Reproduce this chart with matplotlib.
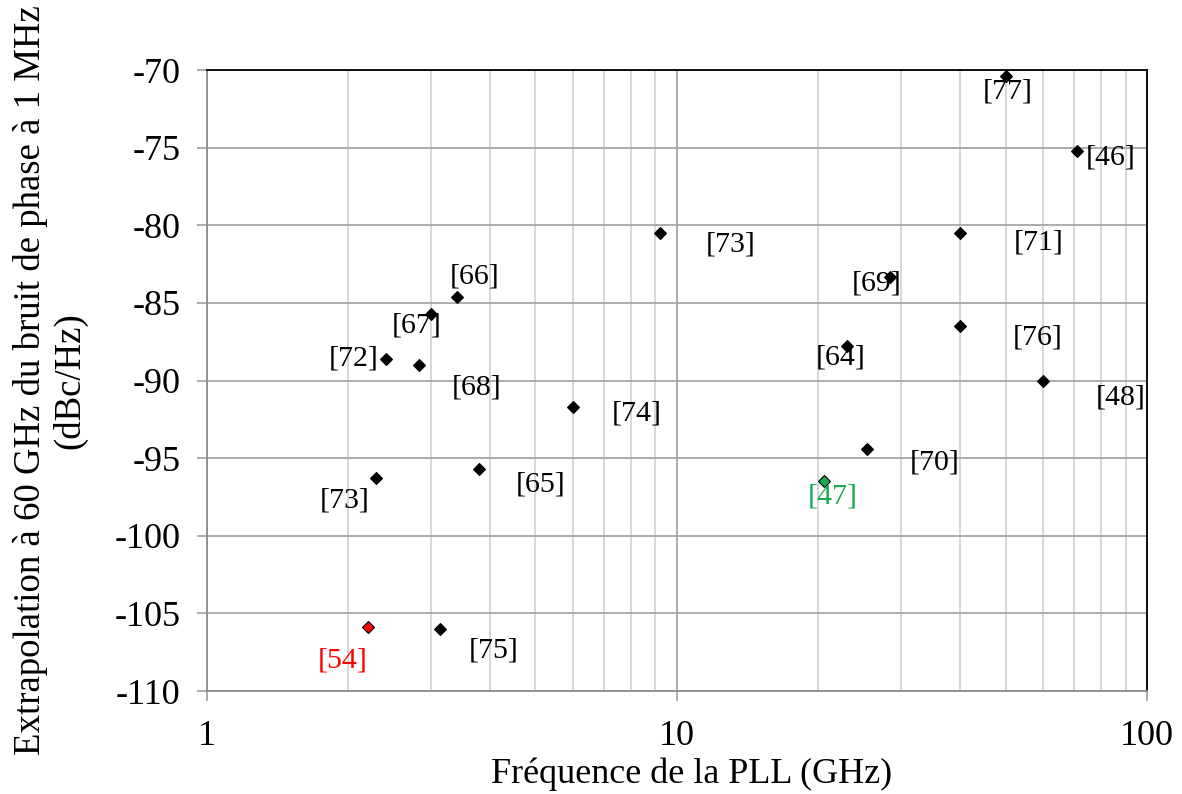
import numpy as np
import matplotlib.pyplot as plt
from matplotlib.ticker import FixedLocator, NullFormatter

plt.rcParams['font.family'] = ['Liberation Serif', 'DejaVu Serif']
plt.rcParams['axes.unicode_minus'] = False

# Références bibliographiques, fréquence PLL (GHz), bruit de phase extrapolé (dBc/Hz)
refs = ['[77]', '[46]', '[71]', '[73]', '[69]', '[66]', '[67]', '[72]', '[76]', '[64]',
        '[68]', '[74]', '[48]', '[70]', '[65]', '[47]', '[73]', '[54]', '[75]']
freq = [50, 71, 40, 9.2, 28.4, 3.4, 3.0, 2.4, 40, 23,
        2.83, 6.0, 60, 25.4, 3.8, 20.5, 2.29, 2.2, 3.13]
noise = [-70.4, -75.2, -80.5, -80.5, -83.3, -84.6, -85.7, -88.6, -86.5, -87.8,
         -89.0, -91.7, -90.0, -94.4, -95.7, -96.5, -96.3, -105.9, -106.0]
colors = ['black'] * 15 + ['#1aaa55', 'black', 'red', 'black']
# décalage des étiquettes en pixels
offsets = [(2, -15), (34, -7), (79, -9), (71, -11), (-13, -7), (18, 20), (-15, -12),
           (-32, 0), (78, -11), (-6, -11), (57, -23), (64, -7), (78, -17), (67, -14),
           (61, -15), (9, -15), (-31, -22), (-25, -33), (54, -22)]

fig = plt.figure(figsize=(11.82, 7.94), dpi=100)
ax = fig.add_axes([0.1751, 0.1297, 0.7953, 0.7821])

ax.set_xscale('log')
ax.set_xlim(1, 100)
ax.set_ylim(-110, -70)
ax.set_yticks(np.arange(-110, -69, 5))
ax.xaxis.set_major_locator(FixedLocator([1, 10, 100]))
ax.set_xticklabels(['1', '10', '100'])
ax.xaxis.set_minor_locator(FixedLocator([k * d for d in (1, 10) for k in range(2, 10)]))
ax.xaxis.set_minor_formatter(NullFormatter())

ax.grid(True, which='major', axis='y', color='#a6a6a6', lw=1.3)
ax.grid(True, which='major', axis='x', color='#a6a6a6', lw=1.3)
ax.grid(True, which='minor', axis='x', color='#d4d4d4', lw=1.3)
ax.set_axisbelow(True)

for s in ('left', 'bottom'):
    ax.spines[s].set_color('#8c8c8c')
    ax.spines[s].set_linewidth(1.3)
for s in ('top', 'right'):
    ax.spines[s].set_color('black')
    ax.spines[s].set_linewidth(1.3)

ax.tick_params(axis='both', which='major', labelsize=26, length=7, color='#a6a6a6', width=1.3)
ax.tick_params(axis='y', which='major', pad=12)
ax.tick_params(axis='x', which='major', pad=14)
ax.tick_params(axis='x', which='minor', length=0)

for f, n, c in zip(freq, noise, colors):
    ax.plot(f, n, marker='D', ms=6, color=c, mec='black', mew=0.8, ls='none', zorder=3)

for r, f, n, c, off in zip(refs, freq, noise, colors, offsets):
    ax.annotate(r, (f, n), xytext=off, textcoords='offset pixels',
                ha='center', va='center', fontsize=21.5, color=c, zorder=4)

ax.set_xlabel('Fréquence de la PLL (GHz)', fontsize=26)
ax.xaxis.label.set(va='center')
ax.xaxis.set_label_coords(0.515, -0.134)

ax.set_ylabel('Extrapolation à 60 GHz du bruit de phase à 1 MHz\n(dBc/Hz)',
              fontsize=26.5, linespacing=1.15)
ax.yaxis.label.set(ha='center', va='center', rotation_mode='default')
ax.yaxis.set_label_coords(-0.167, 0.5)

fig.savefig('out.png', dpi=100)
